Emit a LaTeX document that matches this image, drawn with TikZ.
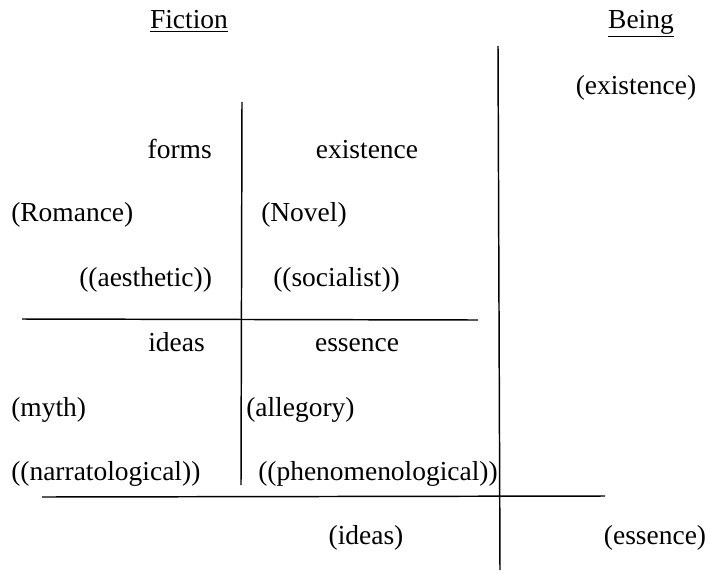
\documentclass[tikz,border=0pt]{standalone}
\usepackage{fontspec}
\setmainfont{Liberation Serif}
\begin{document}
\begin{tikzpicture}[x=0.75pt,y=0.75pt,yscale=-1,xscale=1]
    \useasboundingbox (0,0) rectangle (711,572);
    \tikzset{lbl/.style={inner sep=0.75pt, text height=0.7em, text depth=0.2em, yshift=-4pt, font=\fontsize{20.6}{24}\selectfont}}

    %Straight Lines [id:left vertical]
    \draw [line width=1.1pt]  (242,102) -- (241,485) ;
    %Straight Lines [id:right vertical]
    \draw [line width=1.1pt]  (498,46) -- (500,570) ;
    %Straight Lines [id:middle horizontal]
    \draw [line width=1.1pt]  (22,319) -- (478,320) ;
    %Straight Lines [id:bottom horizontal]
    \draw [line width=1.1pt]  (42,497) -- (605,496) ;

    % Text Node
    \draw (189,20) node [lbl] (fiction) {\underline{Fiction}};
    % Text Node
    \draw (641,20) node [lbl] (being) {\underline{Being}};
    % Text Node
    \draw (636,86) node [lbl] (bexist) {(existence)};
    % Text Node
    \draw (213,150) node [lbl, anchor=east] (forms) {forms};
    % Text Node
    \draw (367,150) node [lbl] (exist) {existence};
    % Text Node
    \draw (10,213) node [lbl, anchor=west] (romance) {(Romance)};
    % Text Node
    \draw (260,213) node [lbl, anchor=west] (novel) {(Novel)};
    % Text Node
    \draw (78,278) node [lbl, anchor=west] (aesth) {((aesthetic))};
    % Text Node
    \draw (272,278) node [lbl, anchor=west] (social) {((socialist))};
    % Text Node
    \draw (206,343) node [lbl, anchor=east] (ideas) {ideas};
    % Text Node
    \draw (357,343) node [lbl] (essence) {essence};
    % Text Node
    \draw (10,408) node [lbl, anchor=west] (myth) {(myth)};
    % Text Node
    \draw (245,408) node [lbl, anchor=west] (allegory) {(allegory)};
    % Text Node
    \draw (10,472) node [lbl, anchor=west] (narrat) {((narratological))};
    % Text Node
    \draw (257,472) node [lbl, anchor=west] (phenom) {((phenomenological))};
    % Text Node
    \draw (366,536) node [lbl] (bideas) {(ideas)};
    % Text Node
    \draw (655,536) node [lbl] (bessence) {(essence)};

\end{tikzpicture}
\end{document}
